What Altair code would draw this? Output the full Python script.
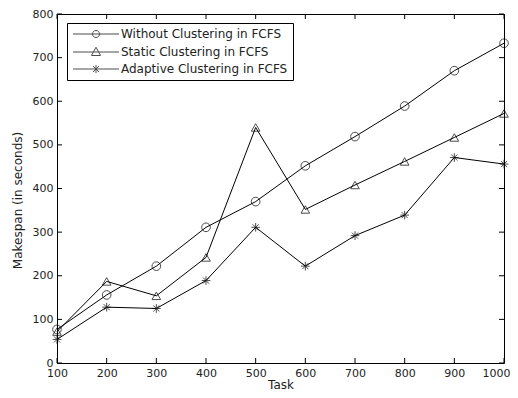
import altair as alt
import pandas as pd

tasks = [100, 200, 300, 400, 500, 600, 700, 800, 900, 1000]
without_clustering = [77, 156, 222, 311, 370, 452, 519, 589, 670, 733]
static_clustering = [72, 187, 154, 242, 540, 352, 408, 462, 517, 572]
adaptive_clustering = [54, 128, 125, 189, 311, 222, 292, 339, 471, 456]
series_names = ["Without Clustering in FCFS", "Static Clustering in FCFS", "Adaptive Clustering in FCFS"]
x_ticks = [100, 200, 300, 400, 500, 600, 700, 800, 900, 1000]
y_ticks = [0, 100, 200, 300, 400, 500, 600, 700, 800]

rows = []
for name, vals in zip(series_names, [without_clustering, static_clustering, adaptive_clustering]):
    for t, v in zip(tasks, vals):
        rows.append({"task": t, "value": v, "series": name})
df = pd.DataFrame(rows)
xt = pd.DataFrame({"task": x_ticks})
yt = pd.DataFrame({"value": y_ticks})

W, H = 447, 349
FONT = "DejaVu Sans"
TXT = "#222222"

xscale = alt.Scale(domain=[100, 1000], nice=False, zero=False)
yscale = alt.Scale(domain=[0, 800], nice=False)

xaxis = alt.Axis(values=x_ticks, title="Task", ticks=False, domain=False, grid=False,
                 labelPadding=4, labelFont=FONT, labelFontSize=11, labelColor=TXT,
                 titleFont=FONT, titleFontSize=12, titleColor=TXT, titleFontWeight="normal",
                 titleY=25, titleBaseline="alphabetic", format="d", labelFlush=False,
                 labelOffset={"condition": {"test": "datum.value == 1000", "value": -8}, "value": 0})
yaxis = alt.Axis(values=y_ticks, title="Makespan (in seconds)", ticks=False, domain=False, grid=False,
                 labelPadding=4, labelFont=FONT, labelFontSize=11, labelColor=TXT,
                 titleFont=FONT, titleFontSize=12, titleColor=TXT, titleFontWeight="normal",
                 titlePadding=8, format="d", labelFlush=False, titleY=186)

marker_shapes = ["circle", "triangle-up",
                 "M-1,0L1,0M0,-1L0,1M-0.7,-0.7L0.7,0.7M-0.7,0.7L0.7,-0.7"]
legend_shapes = [
    "M-4.6,0L4.6,0M-0.7,0A0.7,0.7 0 1,0 0.7,0A0.7,0.7 0 1,0 -0.7,0",
    "M-4.6,0L4.6,0M0,-0.95L0.9,0.7L-0.9,0.7Z",
    "M-4.6,0L4.6,0M0,-0.8L0,0.8M-0.6,-0.6L0.6,0.6M-0.6,0.6L0.6,-0.6",
]

X = alt.X("task:Q", scale=xscale, axis=xaxis)
Y = alt.Y("value:Q", scale=yscale, axis=yaxis)

lines = alt.Chart(df).mark_line(color="black", strokeWidth=1).encode(
    x=X, y=Y, detail="series:N", order="task:Q",
)

points = alt.Chart(df).mark_point(filled=False, color="black", strokeWidth=1, size=75).encode(
    x=X, y=Y,
    shape=alt.Shape("series:N", scale=alt.Scale(domain=series_names, range=marker_shapes), legend=None),
)

legend_layer = alt.Chart(df).transform_filter("false").mark_point(
    filled=False, color="black", strokeWidth=1).encode(
    x=X, y=Y,
    shape=alt.Shape("series:N", scale=alt.Scale(domain=series_names, range=legend_shapes),
                    legend=alt.Legend(title=None, orient="none", legendX=10, legendY=9,
                                      strokeColor="black", fillColor="white", padding=5,
                                      rowPadding=5, symbolSize=100, symbolOffset=18,
                                      labelOffset=19, symbolStrokeColor="black",
                                      symbolFillColor="transparent", symbolStrokeWidth=1,
                                      labelFont=FONT, labelFontSize=12, labelColor=TXT,
                                      labelLimit=400)),
)

tick_len = 5
bottom_ticks = alt.Chart(xt).mark_rule(color="black", strokeWidth=1).encode(
    x=X, y=alt.value(H), y2=alt.value(H - tick_len))
top_ticks = alt.Chart(xt).mark_rule(color="black", strokeWidth=1).encode(
    x=X, y=alt.value(0), y2=alt.value(tick_len))
left_ticks = alt.Chart(yt).mark_rule(color="black", strokeWidth=1).encode(
    y=Y, x=alt.value(0), x2=alt.value(tick_len))
right_ticks = alt.Chart(yt).mark_rule(color="black", strokeWidth=1).encode(
    y=Y, x=alt.value(W), x2=alt.value(W - tick_len))

chart = alt.layer(
    lines, points, legend_layer, bottom_ticks, top_ticks, left_ticks, right_ticks
).resolve_scale(shape="independent").properties(
    width=W, height=H,
    autosize=alt.AutoSizeParams(type="none"),
    padding={"left": 49, "top": 6, "right": 6, "bottom": 27},
    background="white",
).configure_view(stroke="black", strokeWidth=1)

chart.save("out.html", embed_options={"renderer": "svg", "actions": False})
